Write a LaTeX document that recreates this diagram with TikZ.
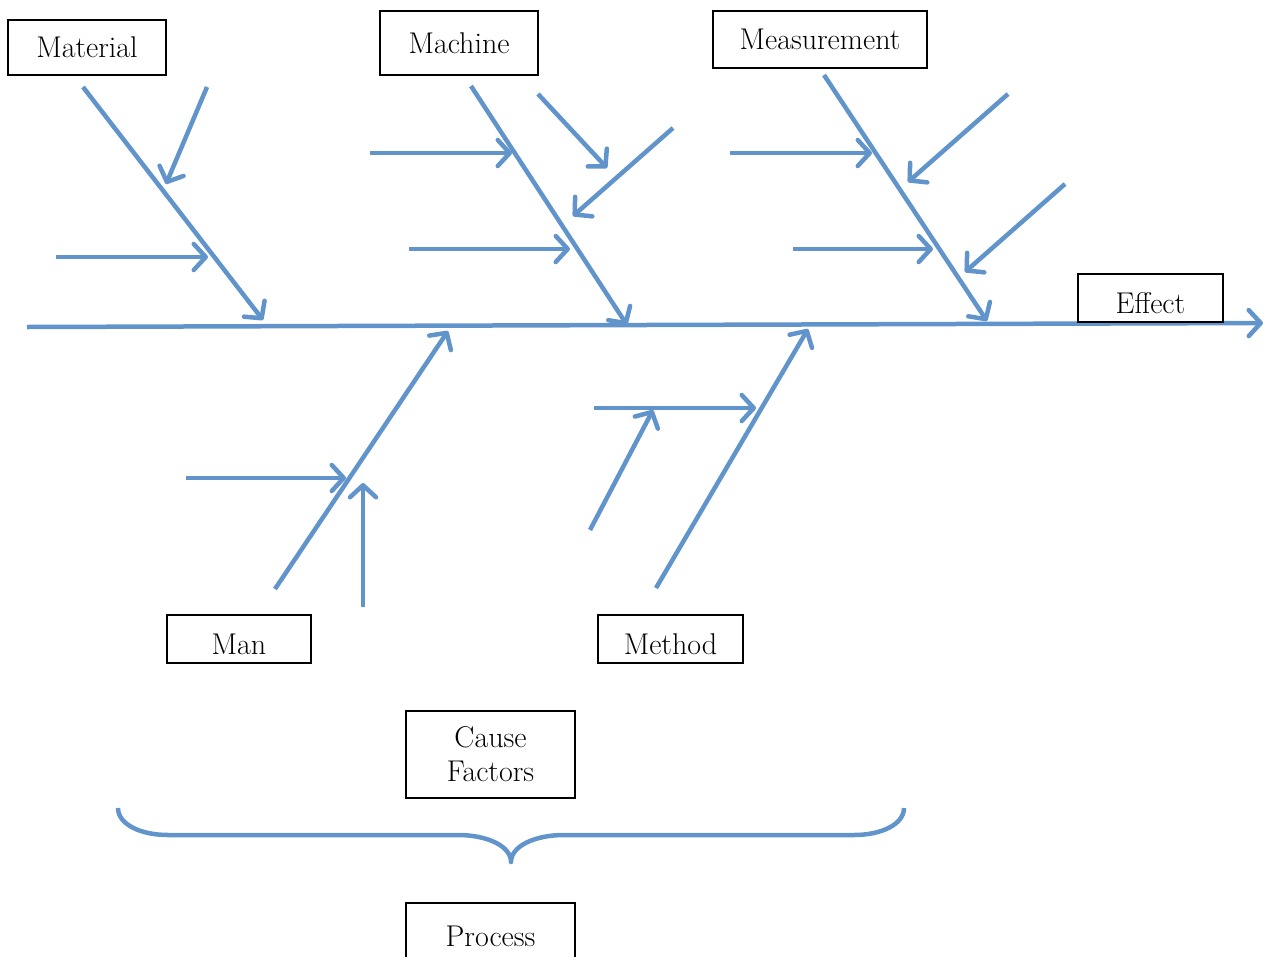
\documentclass[tikz,border=0pt]{standalone}
\usepackage{fontspec}
\usepackage{tikz}
\usetikzlibrary{arrows.meta}
\definecolor{bonecolor}{RGB}{98,148,204}

\begin{document}
\begin{tikzpicture}[x=1pt,y=-1pt,->,>={Straight Barb[length=12pt,width=26pt,round]},
                    line width=4.5pt]
  \tikzstyle{every edge}=[draw=bonecolor,line width=4.5pt]
  \tikzstyle{place}=[rectangle,draw=black,line width=1.6pt,fill=white,text=black,
                     font=\fontsize{30}{34}\selectfont,inner sep=0pt]
  \tikzstyle{sunk}=[text height=31pt,text depth=0pt]

  \useasboundingbox (0,0) rectangle (1266,956);

  % spine and main bones
  \coordinate (tail) at (27,327);
  \coordinate (head) at (1263,323);
  \coordinate (mat0) at (83,87);   \coordinate (mat1) at (263,320);
  \coordinate (mac0) at (471,86);  \coordinate (mac1) at (627,325);
  \coordinate (mea0) at (824,75);  \coordinate (mea1) at (987,321);
  \coordinate (man0) at (275,589); \coordinate (man1) at (448,331);
  \coordinate (met0) at (656,588); \coordinate (met1) at (808,329);

  % small bones
  \coordinate (a0) at (207,87);  \coordinate (a1) at (166,184);
  \coordinate (b0) at (56,257);  \coordinate (b1) at (208,257);
  \coordinate (c0) at (370,153); \coordinate (c1) at (512,153);
  \coordinate (d0) at (538,94);  \coordinate (d1) at (607,168);
  \coordinate (e0) at (673,128); \coordinate (e1) at (573,216);
  \coordinate (f0) at (409,249); \coordinate (f1) at (570,249);
  \coordinate (g0) at (730,153); \coordinate (g1) at (872,153);
  \coordinate (h0) at (1008,94); \coordinate (h1) at (908,182);
  \coordinate (i0) at (793,249); \coordinate (i1) at (933,249);
  \coordinate (j0) at (1065,184); \coordinate (j1) at (965,272);
  \coordinate (k0) at (186,478); \coordinate (k1) at (346,478);
  \coordinate (l0) at (363,607); \coordinate (l1) at (363,483);
  \coordinate (m0) at (594,408); \coordinate (m1) at (756,408);
  \coordinate (n0) at (590,530); \coordinate (n1) at (653,410);

  \path
(tail) edge (head)
(mat0) edge (mat1)
(mac0) edge (mac1)
(mea0) edge (mea1)
(man0) edge (man1)
(met0) edge (met1)
(a0) edge (a1)
(b0) edge (b1)
(c0) edge (c1)
(d0) edge (d1)
(e0) edge (e1)
(f0) edge (f1)
(g0) edge (g1)
(h0) edge (h1)
(i0) edge (i1)
(j0) edge (j1)
(k0) edge (k1)
(l0) edge (l1)
(m0) edge (m1)
(n0) edge (n1)
;

  % brace under the causes
  \coordinate (braceL) at (118,808);
  \coordinate (braceM) at (511,862);
  \coordinate (braceR) at (904,808);
  \draw[-,bonecolor,line width=4.5pt,line join=round]
    (braceL) .. controls (118,824) and (140,835) .. (168,835) -- (458,835)
    .. controls (487,835) and (511,846) .. (braceM)
    .. controls (511,846) and (535,835) .. (564,835) -- (854,835)
    .. controls (882,835) and (904,824) .. (braceR);

  \node[place,minimum width=158pt,minimum height=55pt] (material)    at (87,47.5)   {Material};
  \node[place,minimum width=158pt,minimum height=64pt] (machine)     at (459,43)    {Machine};
  \node[place,minimum width=214pt,minimum height=57pt] (measurement) at (820,39.5)  {Measurement};
  \node[place,sunk,minimum width=145pt,minimum height=48pt] (effect) at (1150.5,298) {Effect};
  \node[place,sunk,minimum width=144pt,minimum height=48pt] (man)    at (239,639)   {Man};
  \node[place,sunk,minimum width=145pt,minimum height=48pt] (method) at (670.5,639) {Method};
  \node[place,minimum width=169pt,minimum height=87pt,align=center] (cause) at (490.5,754.5) {Cause\\Factors};
  \node[place,minimum width=169pt,minimum height=66pt] (process)     at (490.5,936) {Process};

\end{tikzpicture}
\end{document}
